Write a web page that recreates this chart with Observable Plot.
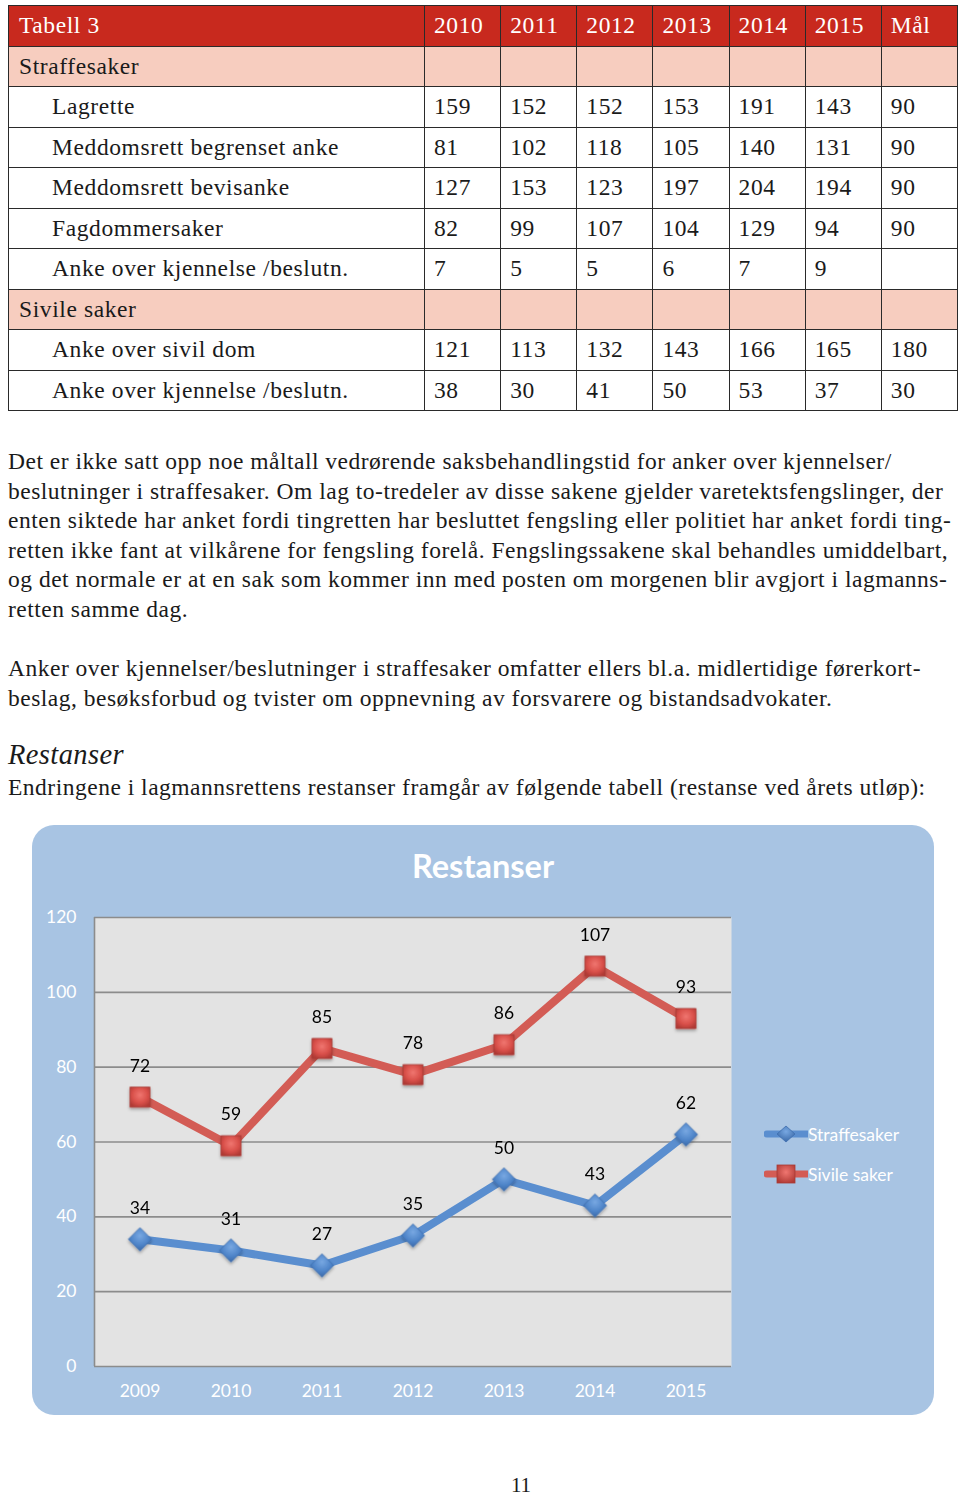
<!DOCTYPE html>
<html>
<head>
<meta charset="utf-8">
<script src="https://cdn.jsdelivr.net/npm/d3@7"></script>
<script src="https://cdn.jsdelivr.net/npm/@observablehq/plot@0.6"></script>
<style>
  html, body { margin: 0; padding: 0; background: #fff; }
  body { width: 960px; height: 1495px; position: relative; overflow: hidden; font-family: "Liberation Serif", "Times New Roman", serif; color: #1a1a1a; }
  table.t { position: absolute; left: 8px; top: 5px; width: 950px; border-collapse: collapse; table-layout: fixed; font-family: "Liberation Serif", serif; font-size: 23.5px; letter-spacing: 0.6px; }
  table.t tr { height: 40.5px; }
  table.t td { border: 1.3px solid #2a2a2a; padding: 0 0 0 9px; vertical-align: middle; white-space: nowrap; overflow: hidden; }
  table.t td.lab { padding-left: 43px; }
  table.t tr.cat td.lab, table.t tr.head td.lab { padding-left: 10px; }
  table.t tr.head td { background: #C8291E; color: #fff; }
  table.t tr.cat td { background: #F7CDBF; }
  .para { position: absolute; left: 8px; font-family: "Liberation Serif", serif; font-size: 23.5px; letter-spacing: 0.5px; line-height: 29.6px; white-space: nowrap; }
  .h { position: absolute; left: 8px; top: 739px; font-family: "Liberation Serif", serif; font-size: 28.5px; font-style: italic; letter-spacing: 0.4px; }
  #chart { position: absolute; left: 32px; top: 825px; width: 902px; height: 590px; background: #A8C4E3; border-radius: 22px; }
  #chart .title { position: absolute; left: 0; width: 902px; text-align: center; top: 21px; font-family: Lato, sans-serif; font-weight: 700; font-size: 32.5px; color: #fff; }
  #chart .legend { position: absolute; left: 732px; top: 289px; font-family: Lato, sans-serif; font-size: 17.5px; color: #fff; }
  #chart .legend div { height: 40px; display: flex; align-items: center; }
  #chart .legend svg { margin-right: 0px; }
  #plot { position: absolute; left: 0; top: 0; }
  .pnum { position: absolute; top: 1473px; left: 0; width: 1042px; text-align: center; font-size: 21px; }
</style>
</head>
<body>
<table class="t" id="tab">
  <colgroup><col style="width:416px"><col><col><col><col><col><col><col></colgroup>
</table>

<div class="para" style="top:447px">
<div>Det er ikke satt opp noe måltall vedrørende saksbehandlingstid for anker over kjennelser/</div>
<div>beslutninger i straffesaker. Om lag to-tredeler av disse sakene gjelder varetektsfengslinger, der</div>
<div>enten siktede har anket fordi tingretten har besluttet fengsling eller politiet har anket fordi ting-</div>
<div>retten ikke fant at vilkårene for fengsling forelå. Fengslingssakene skal behandles umiddelbart,</div>
<div>og det normale er at en sak som kommer inn med posten om morgenen blir avgjort i lagmanns-</div>
<div>retten samme dag.</div>
</div>

<div class="para" style="top:654px">
<div>Anker over kjennelser/beslutninger i straffesaker omfatter ellers bl.a. midlertidige førerkort-</div>
<div>beslag, besøksforbud og tvister om oppnevning av forsvarere og bistandsadvokater.</div>
</div>

<div class="h">Restanser</div>
<div class="para" style="top:773px"><div>Endringene i lagmannsrettens restanser framgår av følgende tabell (restanse ved årets utløp):</div></div>

<div id="chart">
  <div id="plot"></div>
  <div class="title">Restanser</div>
  <div class="legend" id="legend"></div>
</div>

<div class="pnum">11</div>

<script>
// ---------- table data ----------
const tableTitle = "Tabell 3";
const tableColumns = ["2010", "2011", "2012", "2013", "2014", "2015", "Mål"];
const catStraff = "Straffesaker";
const catSivil = "Sivile saker";
const lagrette = ["159", "152", "152", "153", "191", "143", "90"];
const meddomsBegrenset = ["81", "102", "118", "105", "140", "131", "90"];
const meddomsBevis = ["127", "153", "123", "197", "204", "194", "90"];
const fagdommer = ["82", "99", "107", "104", "129", "94", "90"];
const ankeKjennStraff = ["7", "5", "5", "6", "7", "9", ""];
const ankeSivilDom = ["121", "113", "132", "143", "166", "165", "180"];
const ankeKjennSivil = ["38", "30", "41", "50", "53", "37", "30"];

// ---------- chart data ----------
const years = [2009, 2010, 2011, 2012, 2013, 2014, 2015];
const straffesaker = [34, 31, 27, 35, 50, 43, 62];
const sivileSaker = [72, 59, 85, 78, 86, 107, 93];
const yTicks = [0, 20, 40, 60, 80, 100, 120];
const seriesNames = ["Straffesaker", "Sivile saker"];

// build table
const tableRows = [
  {cls: "head", label: tableTitle, vals: tableColumns},
  {cls: "cat", label: catStraff, vals: ["", "", "", "", "", "", ""]},
  {cls: "", label: "Lagrette", vals: lagrette},
  {cls: "", label: "Meddomsrett begrenset anke", vals: meddomsBegrenset},
  {cls: "", label: "Meddomsrett bevisanke", vals: meddomsBevis},
  {cls: "", label: "Fagdommersaker", vals: fagdommer},
  {cls: "", label: "Anke over kjennelse /beslutn.", vals: ankeKjennStraff},
  {cls: "cat", label: catSivil, vals: ["", "", "", "", "", "", ""]},
  {cls: "", label: "Anke over sivil dom", vals: ankeSivilDom},
  {cls: "", label: "Anke over kjennelse /beslutn.", vals: ankeKjennSivil}
];
const tab = document.getElementById("tab");
const tbody = document.createElement("tbody");
tab.appendChild(tbody);
for (const r of tableRows) {
  const tr = document.createElement("tr");
  if (r.cls) tr.className = r.cls;
  const td0 = document.createElement("td");
  td0.className = "lab";
  td0.textContent = r.label;
  tr.appendChild(td0);
  for (const v of r.vals) {
    const td = document.createElement("td");
    td.textContent = v;
    tr.appendChild(td);
  }
  tbody.appendChild(tr);
}

// chart
const data = [];
years.forEach((y, i) => {
  data.push({year: y, value: straffesaker[i], series: seriesNames[0]});
  data.push({year: y, value: sivileSaker[i], series: seriesNames[1]});
});
const dS = data.filter(d => d.series === seriesNames[0]);
const dC = data.filter(d => d.series === seriesNames[1]);

const blue = "#5A8ECF";
const red = "#D35C55";

const plot = Plot.plot({
  width: 902,
  height: 590,
  marginLeft: 62,
  marginRight: 203,
  marginTop: 92,
  marginBottom: 49,
  style: {background: "transparent", fontFamily: "Lato, sans-serif", fontSize: "17.5px"},
  x: {domain: [years[0] - 0.5, years[years.length - 1] + 0.5], ticks: years, tickFormat: d => String(d)},
  y: {domain: [0, 120], ticks: yTicks},
  marks: [
    Plot.frame({fill: "#E3E3E3", stroke: null}),
    Plot.ruleY(yTicks, {stroke: "#8C8C8C", strokeWidth: 1.6}),
    Plot.ruleX([years[0] - 0.5], {stroke: "#8C8C8C", strokeWidth: 1.6}),
    Plot.axisY({ticks: yTicks, tickSize: 0, tickPadding: 18, fill: "#fff", label: null}),
    Plot.axisX({ticks: years, tickSize: 0, tickPadding: 18, fill: "#fff", label: null, tickFormat: d => String(d)}),
    Plot.line(dS, {x: "year", y: "value", stroke: blue, strokeWidth: 8, strokeLinejoin: "round"}),
    Plot.line(dC, {x: "year", y: "value", stroke: red, strokeWidth: 8, strokeLinejoin: "round"}),
    Plot.dot(dS, {x: "year", y: "value", symbol: "diamond2", r: 10.5, fill: "url(#gBlue)", stroke: "#3F6FAE", strokeWidth: 0.8}),
    Plot.dot(dC, {x: "year", y: "value", symbol: "square", r: 11.3, fill: "url(#gRed)", stroke: "#A83A35", strokeWidth: 0.8}),
    Plot.text(data, {x: "year", y: "value", text: d => String(d.value), dy: -31, fill: "#000", fontSize: 17.5})
  ]
});

plot.insertAdjacentHTML("afterbegin", `
<defs>
  <radialGradient id="gRed" cx="50%" cy="40%" r="65%">
    <stop offset="0%" stop-color="#F07670"/>
    <stop offset="60%" stop-color="#D9504A"/>
    <stop offset="100%" stop-color="#B03A35"/>
  </radialGradient>
  <radialGradient id="gBlue" cx="50%" cy="35%" r="65%">
    <stop offset="0%" stop-color="#78A8E2"/>
    <stop offset="60%" stop-color="#4F85C9"/>
    <stop offset="100%" stop-color="#3A69A8"/>
  </radialGradient>
  <filter id="shadow" x="-50%" y="-50%" width="200%" height="200%">
    <feDropShadow dx="0" dy="2" stdDeviation="1.5" flood-color="#000" flood-opacity="0.3"/>
  </filter>
</defs>`);
plot.querySelectorAll('g[aria-label="dot"]').forEach(g => g.setAttribute("filter", "url(#shadow)"));
document.getElementById("plot").appendChild(plot);

// legend
const legend = document.getElementById("legend");
const legendItems = [
  {name: seriesNames[0], color: blue, marker: `<path d="M22 -8 L31 0 L22 8 L13 0 Z" fill="url(#lgBlue)" stroke="#3F6FAE" stroke-width="0.8"/>`},
  {name: seriesNames[1], color: red, marker: `<rect x="13" y="-9" width="18" height="18" fill="url(#lgRed)" stroke="#A83A35" stroke-width="0.8"/>`}
];
legendItems.forEach((it, i) => {
  const div = document.createElement("div");
  div.innerHTML = `<svg width="44" height="24" viewBox="0 -12 44 24">
    <defs>
      <radialGradient id="lgRed" cx="50%" cy="40%" r="65%"><stop offset="0%" stop-color="#F07670"/><stop offset="100%" stop-color="#B03A35"/></radialGradient>
      <radialGradient id="lgBlue" cx="50%" cy="35%" r="65%"><stop offset="0%" stop-color="#78A8E2"/><stop offset="100%" stop-color="#3A69A8"/></radialGradient>
    </defs>
    <line x1="3" x2="43" y1="0" y2="0" stroke="${it.color}" stroke-width="7" stroke-linecap="round"/>
    ${it.marker}
  </svg><span>${it.name}</span>`;
  legend.appendChild(div);
});
</script>
</body>
</html>
